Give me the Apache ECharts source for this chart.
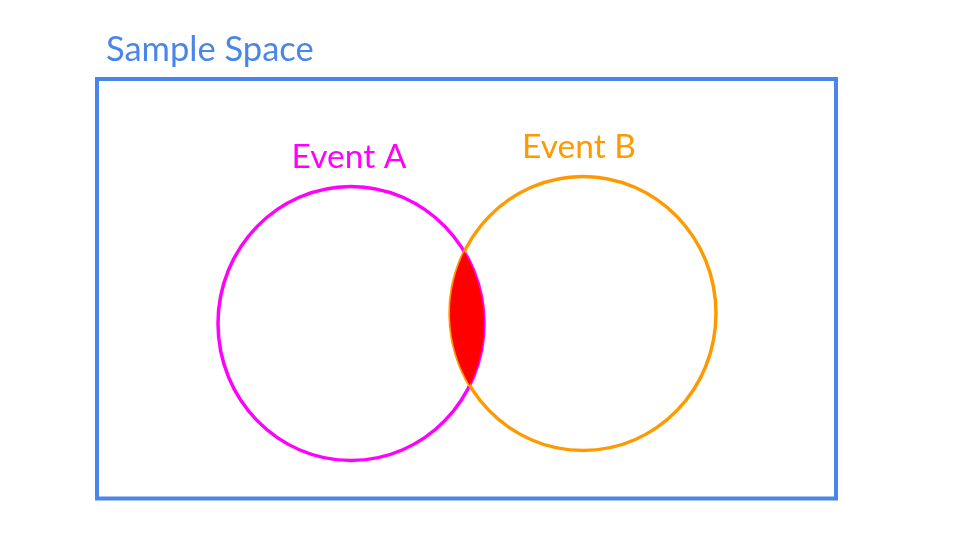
<!DOCTYPE html>
<html>
<head>
<meta charset="utf-8">
<script src="https://cdn.jsdelivr.net/npm/echarts@6/dist/echarts.min.js"></script>
<style>
  html, body { margin: 0; padding: 0; background: #ffffff; }
  #chart { width: 960px; height: 540px; }
</style>
</head>
<body>
<div id="chart"></div>
<script>
// Sample space (a box in diagram units)
const spaceName = 'Sample Space';
const spaceX = [97, 836];
const spaceY = [79, 498.5];
const spaceLabelAt = [106, 49.5];

// Events (ellipse centre and radii in diagram units)
const eventNames = ['Event A', 'Event B'];
const eventCenterX = [351, 583];
const eventCenterY = [323.5, 313.5];
const eventRadiusX = [133, 133];
const eventRadiusY = [137, 137];
const eventLabelX = [349, 579];
const eventLabelY = [157.5, 147.5];

const BLUE = '#4a86e8';
const eventColors = ['#ff00ff', '#ff9900'];
const OVERLAP = '#ff0000';
const FONT = 'Lato, "Noto Sans", sans-serif';

const chart = echarts.init(document.getElementById('chart'), null, { renderer: 'canvas' });

// intersection points of two ellipses with the same radii (pixel space)
function lensPoints(a, b) {
  const k = a.rx / a.ry;
  const ax = a.cx, ay = a.cy * k, bx = b.cx, by = b.cy * k, r = a.rx;
  const dx = bx - ax, dy = by - ay;
  const d = Math.sqrt(dx * dx + dy * dy);
  const h = Math.sqrt(Math.max(r * r - (d / 2) * (d / 2), 0));
  const mx = ax + dx / 2, my = ay + dy / 2;
  const p1 = [mx + (dy / d) * h, (my - (dx / d) * h) / k];
  const p2 = [mx - (dy / d) * h, (my + (dx / d) * h) / k];
  // p1 upper, p2 lower on screen
  return p1[1] < p2[1] ? [p1, p2] : [p2, p1];
}

function arcPts(e, t0, t1, n) {
  const pts = [];
  for (let i = 0; i <= n; i++) {
    const t = t0 + (t1 - t0) * i / n;
    pts.push([e.cx + e.rx * Math.cos(t), e.cy + e.ry * Math.sin(t)]);
  }
  return pts;
}

function ellipseAt(api, i) {
  const c = api.coord([eventCenterX[i], eventCenterY[i]]);
  const s = api.size([eventRadiusX[i], eventRadiusY[i]]);
  return { cx: c[0], cy: c[1], rx: s[0], ry: s[1] };
}

const eventData = eventNames.map((n, i) => ({
  name: n,
  value: [eventCenterX[i], eventCenterY[i], eventRadiusX[i], eventRadiusY[i], eventLabelX[i], eventLabelY[i]],
}));

const option = {
  animation: false,
  backgroundColor: '#ffffff',
  grid: { left: 0, right: 0, top: 0, bottom: 0 },
  xAxis: { type: 'value', min: 0, max: 960, show: false },
  yAxis: { type: 'value', min: 0, max: 540, inverse: true, show: false },
  series: [
    {
      // sample space box + title
      type: 'custom',
      z: 1,
      data: [[spaceX[0], spaceY[0], spaceX[1], spaceY[1], spaceLabelAt[0], spaceLabelAt[1]]],
      renderItem: (params, api) => {
        const p0 = api.coord([api.value(0), api.value(1)]);
        const p1 = api.coord([api.value(2), api.value(3)]);
        const t = api.coord([api.value(4), api.value(5)]);
        return {
          type: 'group',
          children: [
            {
              type: 'rect',
              shape: { x: p0[0], y: p0[1], width: p1[0] - p0[0], height: p1[1] - p0[1] },
              style: { fill: 'none', stroke: BLUE, lineWidth: 4 },
            },
            {
              type: 'text',
              x: t[0], y: t[1],
              style: { text: spaceName, fill: BLUE, fontSize: 34.5, fontFamily: FONT, align: 'left', verticalAlign: 'middle' },
            },
          ],
        };
      },
    },
    {
      // event outlines + labels
      type: 'custom',
      z: 2,
      data: eventData,
      renderItem: (params, api) => {
        const c = api.coord([api.value(0), api.value(1)]);
        const s = api.size([api.value(2), api.value(3)]);
        const t = api.coord([api.value(4), api.value(5)]);
        const color = eventColors[params.dataIndex];
        return {
          type: 'group',
          children: [
            {
              type: 'ellipse',
              shape: { cx: c[0], cy: c[1], rx: s[0], ry: s[1] },
              style: { fill: 'none', stroke: color, lineWidth: 3.5 },
            },
            {
              type: 'text',
              x: t[0], y: t[1],
              style: { text: eventNames[params.dataIndex], fill: color, fontSize: 33.5, fontFamily: FONT, align: 'center', verticalAlign: 'middle' },
            },
          ],
        };
      },
    },
    {
      // overlap A ∩ B
      type: 'custom',
      z: 3,
      data: [[0]],
      renderItem: (params, api) => {
        const A = ellipseAt(api, 0);
        const B = ellipseAt(api, 1);
        const [top, bot] = lensPoints(A, B);
        const ang = (e, p) => Math.atan2((p[1] - e.cy) / e.ry, (p[0] - e.cx) / e.rx);
        // right side of A, top -> bottom
        const a0 = ang(A, top), a1 = ang(A, bot);
        // left side of B, bottom -> top
        let b0 = ang(B, bot), b1 = ang(B, top);
        if (b1 < b0) b1 += Math.PI * 2;
        const pts = arcPts(A, a0, a1, 80).concat(arcPts(B, b0, b1, 80));
        return {
          type: 'polygon',
          shape: { points: pts },
          style: { fill: OVERLAP, stroke: 'none' },
        };
      },
    },
  ],
};

chart.setOption(option);
</script>
</body>
</html>
